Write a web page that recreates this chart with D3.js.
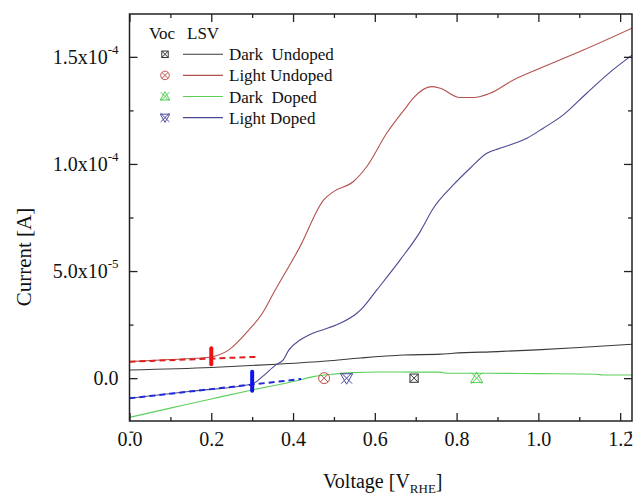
<!DOCTYPE html>
<html>
<head>
<meta charset="utf-8">
<script src="https://cdn.jsdelivr.net/npm/d3@7"></script>
<style>
  html, body { margin: 0; padding: 0; background: #fff; }
  svg { display: block; font-family: "Liberation Serif", "Times New Roman", serif; }
</style>
</head>
<body>
<svg id="chart" width="635" height="497"></svg>
<script>
// LSV sweeps: potential (V vs RHE) and current (A)
const darkUndopedV  = [0, 0.2, 0.36, 0.482, 0.564, 0.67, 0.76, 0.792, 0.9, 0.996, 1.1, 1.229];
const darkUndopedI  = [0.38e-5, 0.50e-5, 0.65e-5, 0.80e-5, 0.94e-5, 1.08e-5, 1.12e-5, 1.16e-5, 1.24e-5, 1.32e-5, 1.43e-5, 1.58e-5];

const lightUndopedV = [0, 0.1, 0.1945, 0.243, 0.292, 0.325, 0.352, 0.417, 0.475, 0.499, 0.547, 0.58, 0.629, 0.678, 0.694, 0.739, 0.76, 0.808, 0.841, 0.882, 0.939, 1.008, 1.11, 1.229];
const lightUndopedI = [0.77e-5, 0.87e-5, 0.976e-5, 1.32e-5, 2.25e-5, 3.03e-5, 3.96e-5, 6.14e-5, 8.32e-5, 8.71e-5, 9.17e-5, 9.87e-5, 11.43e-5, 12.68e-5, 13.07e-5, 13.61e-5, 13.53e-5, 13.10e-5, 13.10e-5, 13.30e-5, 13.92e-5, 14.50e-5, 15.32e-5, 16.34e-5];

const darkDopedV    = [0, 0.1, 0.2, 0.3, 0.401, 0.45, 0.5, 0.547, 0.61, 0.7, 0.76, 0.776, 0.874, 1.0, 1.143, 1.158, 1.229];
const darkDopedI    = [-1.83e-5, -1.40e-5, -0.97e-5, -0.55e-5, -0.16e-5, 0.07e-5, 0.19e-5, 0.26e-5, 0.29e-5, 0.28e-5, 0.28e-5, 0.23e-5, 0.23e-5, 0.21e-5, 0.18e-5, 0.15e-5, 0.15e-5];

const lightDopedV   = [0, 0.15, 0.3, 0.325, 0.358, 0.376, 0.39, 0.417, 0.439, 0.458, 0.472, 0.515, 0.556, 0.569, 0.605, 0.662, 0.711, 0.743, 0.792, 0.833, 0.874, 0.906, 0.972, 1.012, 1.061, 1.118, 1.167, 1.229];
const lightDopedI   = [-0.94e-5, -0.61e-5, -0.27e-5, 0.07e-5, 0.62e-5, 0.85e-5, 1.32e-5, 1.78e-5, 2.02e-5, 2.17e-5, 2.25e-5, 2.56e-5, 3.03e-5, 3.26e-5, 4.12e-5, 5.52e-5, 6.84e-5, 7.93e-5, 9.02e-5, 9.80e-5, 10.50e-5, 10.73e-5, 11.20e-5, 11.67e-5, 12.29e-5, 13.30e-5, 14.15e-5, 15.08e-5];

// baseline extrapolations and onset potentials of the illuminated sweeps
const lightUndopedFitV = [0, 0.317];
const lightUndopedFitI = [0.77e-5, 1.0e-5];
const lightDopedFitV   = [0, 0.42];
const lightDopedFitI   = [-0.94e-5, -0.04e-5];
const onsetV = [0.2, 0.3];
const onsetI = [1.02e-5, -0.14e-5];

// open-circuit potentials (plotted on the zero-current line)
const vocNames = ["Dark  Undoped", "Light Undoped", "Dark  Doped", "Light Doped"];
const vocV     = [0.696, 0.476, 0.849, 0.531];
const vocI     = [0, 0, 0, 0];

// axis ticks
const xMajorTicks = [0, 0.2, 0.4, 0.6, 0.8, 1.0, 1.2];
const xMinorTicks = [0.1, 0.3, 0.5, 0.7, 0.9, 1.1];
const yMajorTicks = [0, 5e-5, 1e-4, 1.5e-4];
const yMinorTicks = [-2.5e-5, 2.5e-5, 7.5e-5, 1.25e-4];
const yTickMantissa = ["0.0", "5.0x10", "1.0x10", "1.5x10"];
const yTickExponent = ["", "-5", "-4", "-4"];

const svg = d3.select("#chart");
const pL = 129.5, pR = 632, pT = 14, pB = 421;

const x = d3.scaleLinear().domain([0, 1.229]).range([pL, pR]);
const y = d3.scaleLinear().domain([-2e-5, 1.7e-4]).range([pB, pT]);

const series = [
  { name: vocNames[0], V: darkUndopedV,  I: darkUndopedI,  color: "#3a3a3a", sym: "square",  symColor: "#333333" },
  { name: vocNames[1], V: lightUndopedV, I: lightUndopedI, color: "#b5524d", sym: "circle",  symColor: "#c0504d" },
  { name: vocNames[2], V: darkDopedV,    I: darkDopedI,    color: "#5ccf5c", sym: "triUp",   symColor: "#4fd04f" },
  { name: vocNames[3], V: lightDopedV,   I: lightDopedI,   color: "#4a4a94", sym: "triDown", symColor: "#4a4a9c" }
];

svg.append("defs").append("clipPath").attr("id", "plotClip")
  .append("rect").attr("x", pL).attr("y", pT).attr("width", pR - pL).attr("height", pB - pT);

const plot = svg.append("g").attr("clip-path", "url(#plotClip)");

const line = d3.line()
  .x(d => x(d[0]))
  .y(d => y(d[1]))
  .curve(d3.curveMonotoneX);

// sweeps
series.forEach(s => {
  plot.append("path")
    .datum(s.V.map((v, i) => [v, s.I[i]]))
    .attr("fill", "none")
    .attr("stroke", s.color)
    .attr("stroke-width", 1.1)
    .attr("d", line);
});

// dashed baseline extrapolations
const straight = d3.line().x(d => x(d[0])).y(d => y(d[1]));
const fits = [
  { V: lightUndopedFitV, I: lightUndopedFitI, color: "#e0201c" },
  { V: lightDopedFitV,   I: lightDopedFitI,   color: "#1f2bd6" }
];
fits.forEach(f => {
  plot.append("path")
    .datum(f.V.map((v, i) => [v, f.I[i]]))
    .attr("fill", "none")
    .attr("stroke", f.color)
    .attr("stroke-width", 2)
    .attr("stroke-dasharray", "6,4")
    .attr("d", straight);
});

// onset bars
const onsetColors = ["#ee1111", "#1111ee"];
const onsetHalf = [8, 9.5];
onsetV.forEach((v, i) => {
  plot.append("line")
    .attr("x1", x(v)).attr("x2", x(v))
    .attr("y1", y(onsetI[i]) - onsetHalf[i]).attr("y2", y(onsetI[i]) + onsetHalf[i])
    .attr("stroke", onsetColors[i])
    .attr("stroke-width", 4)
    .attr("stroke-linecap", "round");
});

// marker shapes
function drawSymbol(g, type, cx, cy, color, s) {
  const m = g.append("g").attr("transform", `translate(${cx},${cy})`)
    .attr("fill", "none").attr("stroke", color).attr("stroke-width", 1);
  if (type === "square") {
    m.append("rect").attr("x", -s * 0.75).attr("y", -s * 0.75).attr("width", s * 1.5).attr("height", s * 1.5);
    m.append("path").attr("d", `M${-s*0.75},${-s*0.75}L${s*0.75},${s*0.75}M${s*0.75},${-s*0.75}L${-s*0.75},${s*0.75}`);
  } else if (type === "circle") {
    m.append("circle").attr("r", s);
    const k = s * 0.7;
    m.append("path").attr("d", `M${-k},${-k}L${k},${k}M${k},${-k}L${-k},${k}`);
  } else {
    const d = type === "triUp" ? 1 : -1;
    m.append("path").attr("d", `M0,${-d*s*1.1}L${s*1.1},${d*s*0.8}L${-s*1.1},${d*s*0.8}Z`);
    m.append("path").attr("d", `M${-s},${-s}L${s},${s}M${s},${-s}L${-s},${s}`);
  }
}

// open-circuit markers
series.forEach((s, i) => {
  drawSymbol(plot, s.sym, x(vocV[i]), y(vocI[i]), s.symColor, 5.5);
});

// axes (inward ticks)
const fmtX = d3.format(".1f");
const xAxis = svg.append("g").attr("transform", `translate(0,${pB})`)
  .call(d3.axisBottom(x).tickValues(xMajorTicks).tickSizeInner(-8).tickSizeOuter(0).tickPadding(11).tickFormat(fmtX));
svg.append("g").attr("transform", `translate(0,${pB})`)
  .call(d3.axisBottom(x).tickValues(xMinorTicks).tickSizeInner(-4).tickSizeOuter(0).tickFormat(""));
svg.append("g").attr("transform", `translate(0,${pT})`)
  .call(d3.axisTop(x).tickValues(xMajorTicks).tickSizeInner(-8).tickSizeOuter(0).tickFormat(""));
svg.append("g").attr("transform", `translate(0,${pT})`)
  .call(d3.axisTop(x).tickValues(xMinorTicks).tickSizeInner(-4).tickSizeOuter(0).tickFormat(""));

const yAxis = svg.append("g").attr("transform", `translate(${pL},0)`)
  .call(d3.axisLeft(y).tickValues(yMajorTicks).tickSizeInner(-8).tickSizeOuter(0).tickPadding(11).tickFormat(""));
svg.append("g").attr("transform", `translate(${pL},0)`)
  .call(d3.axisLeft(y).tickValues(yMinorTicks).tickSizeInner(-4).tickSizeOuter(0).tickFormat(""));
svg.append("g").attr("transform", `translate(${pR},0)`)
  .call(d3.axisRight(y).tickValues(yMajorTicks).tickSizeInner(-8).tickSizeOuter(0).tickFormat(""));
svg.append("g").attr("transform", `translate(${pR},0)`)
  .call(d3.axisRight(y).tickValues(yMinorTicks).tickSizeInner(-4).tickSizeOuter(0).tickFormat(""));

svg.selectAll(".domain").remove();
svg.selectAll(".tick line").attr("stroke", "#222").attr("stroke-width", 1.3);

xAxis.selectAll("text")
  .attr("font-family", "'Liberation Serif', 'Times New Roman', serif")
  .attr("font-size", 20).attr("fill", "#111");

// y labels with superscript exponents
yAxis.selectAll(".tick text").each(function(d) {
  const t = d3.select(this)
    .attr("font-family", "'Liberation Serif', 'Times New Roman', serif")
    .attr("font-size", 20).attr("fill", "#111");
  const k = yMajorTicks.indexOf(d);
  t.append("tspan").text(yTickMantissa[k]);
  if (yTickExponent[k]) {
    t.append("tspan").attr("font-size", 13).attr("dy", "-0.75em").text(yTickExponent[k]);
  }
});

// frame
svg.append("rect")
  .attr("x", pL).attr("y", pT).attr("width", pR - pL).attr("height", pB - pT)
  .attr("fill", "none").attr("stroke", "#222").attr("stroke-width", 1.5);

// axis titles
const xt = svg.append("text")
  .attr("x", (pL + pR) / 2 + 2).attr("y", 488)
  .attr("text-anchor", "middle").attr("font-size", 20).attr("fill", "#111");
xt.append("tspan").text("Voltage [V");
xt.append("tspan").attr("font-size", 13).attr("dy", 5).text("RHE");
xt.append("tspan").attr("dy", -5).text("]");

svg.append("text")
  .attr("transform", "translate(31,257) rotate(-90)")
  .attr("text-anchor", "middle").attr("font-size", 21).attr("fill", "#111")
  .text("Current [A]");

// legend
const lg = svg.append("g").attr("font-size", 17).attr("fill", "#111");
lg.append("text").attr("x", 149).attr("y", 39).text("Voc");
lg.append("text").attr("x", 187).attr("y", 39).text("LSV");
series.forEach((s, i) => {
  const cy = 54.3 + i * 21.1;
  drawSymbol(lg, s.sym, 165, cy, s.symColor, 4.3);
  lg.append("line").attr("x1", 183).attr("x2", 223).attr("y1", cy).attr("y2", cy)
    .attr("stroke", s.color).attr("stroke-width", 1.1);
  lg.append("text").attr("x", 229).attr("y", cy + 6)
    .style("white-space", "pre").text(s.name);
});
</script>
</body>
</html>
